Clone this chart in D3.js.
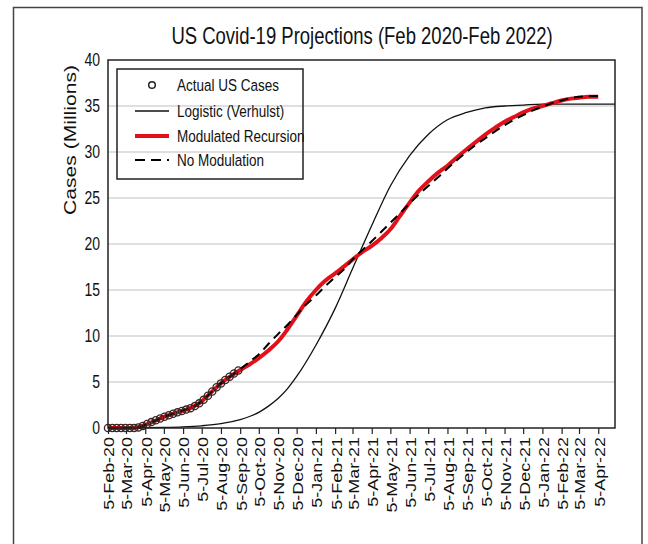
<!DOCTYPE html>
<html><head><meta charset="utf-8">
<script src="https://cdn.jsdelivr.net/npm/d3@7"></script>
<style>html,body{margin:0;padding:0;background:#fff;}svg{display:block;}</style>
</head><body>
<svg id="chart" width="648" height="544"></svg>
<script>
// ---------- data ----------
const titleText = "US Covid-19 Projections (Feb 2020-Feb 2022)";
const yLabel = "Cases (Millions)";
const yTicks = [0, 5, 10, 15, 20, 25, 30, 35, 40];
const xTickDates = ["2020-02-05","2020-03-05","2020-04-05","2020-05-05","2020-06-05","2020-07-05","2020-08-05","2020-09-05","2020-10-05","2020-11-05","2020-12-05",
  "2021-01-05","2021-02-05","2021-03-05","2021-04-05","2021-05-05","2021-06-05","2021-07-05","2021-08-05","2021-09-05","2021-10-05","2021-11-05","2021-12-05",
  "2022-01-05","2022-02-05","2022-03-05","2022-04-05"];
const xDomain = ["2020-02-05", "2022-05-02"];
const legendNames = ["Actual US Cases", "Logistic (Verhulst)", "Modulated Recursion", "No Modulation"];

// Actual US cases (weekly, millions)
const actualDates = ["2020-02-05","2020-02-12","2020-02-19","2020-02-26","2020-03-04","2020-03-11","2020-03-18","2020-03-25",
  "2020-04-01","2020-04-08","2020-04-15","2020-04-22","2020-04-29","2020-05-06","2020-05-13","2020-05-20","2020-05-27",
  "2020-06-03","2020-06-10","2020-06-17","2020-06-24","2020-07-01","2020-07-08","2020-07-15","2020-07-22","2020-07-29",
  "2020-08-05","2020-08-12","2020-08-19","2020-08-26","2020-09-02"];
const actualCases = [0,0,0,0,0,0.001,0.009,0.066,
  0.215,0.43,0.64,0.84,1.04,1.23,1.39,1.55,1.70,
  1.85,2.00,2.16,2.38,2.68,3.06,3.50,3.97,4.43,
  4.85,5.22,5.58,5.92,6.25];

// Logistic (Verhulst) curve
const logisticDates = ["2020-02-05","2020-03-05","2020-04-05","2020-05-05","2020-06-05","2020-07-05","2020-08-05","2020-09-05","2020-09-20","2020-10-05","2020-10-20","2020-11-05","2020-11-20","2020-12-05",
  "2021-01-05","2021-02-05","2021-03-05","2021-04-05","2021-05-05","2021-06-05","2021-07-05","2021-08-05","2021-09-05","2021-10-05","2021-11-05","2021-12-05",
  "2022-01-05","2022-02-05","2022-03-05","2022-04-05","2022-05-02"];
const logisticValues = [0,0.01,0.03,0.06,0.12,0.24,0.47,0.92,1.25,1.7,2.35,3.2,4.25,5.6,
  9.0,13.0,17.3,22.0,26.3,29.6,31.9,33.5,34.3,34.8,35.0,35.1,
  35.2,35.2,35.2,35.2,35.2];

// Projections, semi-monthly
const projDates = ["2020-02-05","2020-02-20","2020-03-05","2020-03-20","2020-04-05","2020-04-20","2020-05-05","2020-05-20","2020-06-05","2020-06-20","2020-07-05","2020-07-20",
  "2020-08-05","2020-08-20","2020-09-05","2020-09-20","2020-10-05","2020-10-20","2020-11-05","2020-11-20","2020-12-05","2020-12-20",
  "2021-01-05","2021-01-20","2021-02-05","2021-02-20","2021-03-05","2021-03-20","2021-04-05","2021-04-20","2021-05-05","2021-05-20","2021-06-05","2021-06-20",
  "2021-07-05","2021-07-20","2021-08-05","2021-08-20","2021-09-05","2021-09-20","2021-10-05","2021-10-20","2021-11-05","2021-11-20","2021-12-05","2021-12-20",
  "2022-01-05","2022-01-20","2022-02-05","2022-02-20","2022-03-05","2022-03-20","2022-04-05"];
const modulatedValues = [0,0,0,0.02,0.33,0.76,1.2,1.55,1.9,2.25,2.9,3.85,4.85,5.6,6.3,6.9,7.6,8.4,9.4,10.7,12.2,13.7,
  15.0,16.0,16.8,17.6,18.3,19.1,19.8,20.6,21.6,23.0,24.5,25.8,26.8,27.7,28.5,29.4,30.3,31.1,31.9,32.6,33.3,33.8,34.3,34.7,
  35.0,35.3,35.6,35.8,35.9,36.0,36.0];
const noModValues = [0,0,0,0.02,0.33,0.76,1.2,1.55,1.9,2.25,2.9,3.85,4.85,5.6,6.4,7.2,8.0,9.1,10.2,11.2,12.3,13.4,
  14.4,15.4,16.4,17.3,18.3,19.3,20.3,21.3,22.3,23.3,24.4,25.4,26.3,27.2,28.2,29.1,30.0,30.8,31.5,32.2,32.9,33.5,34.0,34.5,
  34.9,35.3,35.6,35.85,36.0,36.05,36.1];

// ---------- drawing ----------
const K = 1.28; // vertical stretch of the reference picture
const FONT = "'Liberation Sans', Arial, Helvetica, sans-serif";
const parse = d3.utcParse("%Y-%m-%d");
const fmt = d3.utcFormat("%-d-%b-%y");
const svg = d3.select("#chart");
const L = 108, R = 615, T = 60, B = 428;

const x = d3.scaleUtc().domain(xDomain.map(parse)).range([L, R]);
const y = d3.scaleLinear().domain([0, 40]).range([B, T]);

function stext(g, px, py, str, size, anchor, rotate, dy) {
  return g.append("g")
    .attr("transform", `translate(${px},${py}) scale(1,${K})` + (rotate ? " rotate(-90)" : ""))
    .append("text")
    .attr("font-family", FONT).attr("font-size", size)
    .attr("text-anchor", anchor).attr("dy", dy || "0")
    .attr("fill", "#111").text(str);
}

// outer frame
svg.append("rect").attr("x", 13.5).attr("y", 7.5).attr("width", 628.5).attr("height", 560)
  .attr("fill", "#fff").attr("stroke", "#444").attr("stroke-width", 1.5);

// gridlines
svg.append("g").selectAll("line").data(yTicks.filter(v => v > 0 && v < 40)).join("line")
  .attr("x1", L).attr("x2", R).attr("y1", d => y(d)).attr("y2", d => y(d))
  .attr("stroke", "#d4d4d4").attr("stroke-width", 1.5);

// x axis ticks
const xAxis = d3.axisBottom(x).tickValues(xTickDates.map(parse)).tickSize(6).tickFormat("");
const gx = svg.append("g").attr("transform", `translate(0,${B})`).call(xAxis);
gx.select(".domain").remove();
gx.selectAll(".tick line").attr("stroke", "#222").attr("stroke-width", 1.2);

// x tick labels
const gxl = svg.append("g");
xTickDates.forEach(s => stext(gxl, x(parse(s)) + 1.5, 437, fmt(parse(s)), 14, "end", true, "0.35em"));

// y tick labels
const gyl = svg.append("g");
yTicks.forEach(v => stext(gyl, 100, y(v), String(v), 14, "end", false, "0.35em"));

// axis title and chart title
stext(svg, 70, 140, yLabel, 16.5, "middle", true, "0.35em");
stext(svg, 362, 44, titleText, 18.5, "middle", false, "0");

// curves
const line = d3.line().x(d => x(d[0])).y(d => y(d[1])).curve(d3.curveMonotoneX);
const zip = (ds, vs) => ds.map((s, i) => [parse(s), vs[i]]);

svg.append("path").datum(zip(logisticDates, logisticValues)).attr("d", line)
  .attr("fill", "none").attr("stroke", "#111").attr("stroke-width", 1.3);
svg.append("path").datum(zip(projDates, modulatedValues)).attr("d", line)
  .attr("fill", "none").attr("stroke", "#e3101a").attr("stroke-width", 4).attr("stroke-linejoin", "round");
svg.append("path").datum(zip(projDates, noModValues)).attr("d", line)
  .attr("fill", "none").attr("stroke", "#000").attr("stroke-width", 2).attr("stroke-dasharray", "9,6");

svg.append("g").selectAll("circle").data(zip(actualDates, actualCases)).join("circle")
  .attr("cx", d => x(d[0])).attr("cy", d => y(d[1])).attr("r", 3.6)
  .attr("fill", "none").attr("stroke", "#3a2424").attr("stroke-width", 1.3);

// plot border
svg.append("rect").attr("x", L).attr("y", T).attr("width", R - L).attr("height", B - T)
  .attr("fill", "none").attr("stroke", "#222").attr("stroke-width", 1.5);

// legend
const lg = svg.append("g");
lg.append("rect").attr("x", 117).attr("y", 69).attr("width", 186).attr("height", 110)
  .attr("fill", "none").attr("stroke", "#222").attr("stroke-width", 1.5);
const ly = [85, 111, 136, 160];
lg.append("circle").attr("cx", 152).attr("cy", ly[0]).attr("r", 3.3)
  .attr("fill", "none").attr("stroke", "#222").attr("stroke-width", 1.5);
lg.append("line").attr("x1", 135).attr("x2", 169).attr("y1", ly[1]).attr("y2", ly[1]).attr("stroke", "#111").attr("stroke-width", 1.3);
lg.append("line").attr("x1", 135).attr("x2", 169).attr("y1", ly[2]).attr("y2", ly[2]).attr("stroke", "#e3101a").attr("stroke-width", 4);
lg.append("line").attr("x1", 135).attr("x2", 169).attr("y1", ly[3]).attr("y2", ly[3]).attr("stroke", "#000").attr("stroke-width", 2).attr("stroke-dasharray", "10,6");
legendNames.forEach((n, i) => stext(lg, 177, ly[i], n, 13.5, "start", false, "0.35em"));
</script>
</body></html>
